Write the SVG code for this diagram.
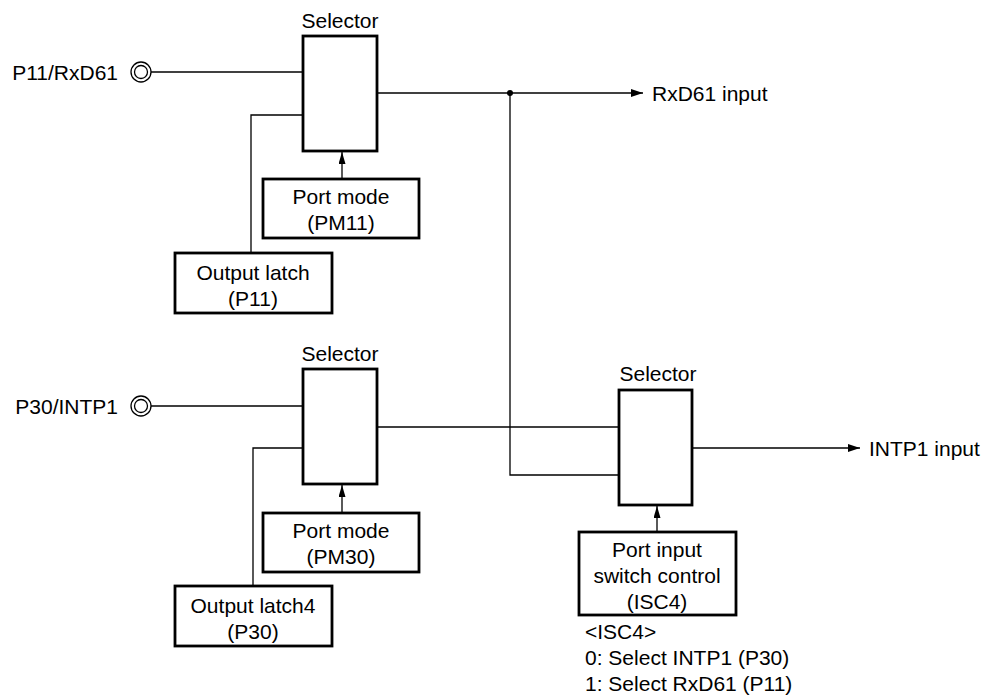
<svg xmlns="http://www.w3.org/2000/svg" width="996" height="698" viewBox="0 0 996 698">
<defs>
<style>
text{font-family:"Liberation Sans",Arial,sans-serif;font-size:21px;fill:#000}
.c{text-anchor:middle}
.e{text-anchor:end}
.box{fill:#fff;stroke:#000;stroke-width:2.8}
.ln{fill:none;stroke:#000;stroke-width:1.3}
.pin{fill:none;stroke:#000;stroke-width:1.3}
</style>
<marker id="ah" viewBox="0 0 12 8" refX="12" refY="4" markerWidth="12" markerHeight="8" markerUnits="userSpaceOnUse" orient="auto">
<path d="M0,0 L12,4 L0,8 Z" fill="#000"/>
</marker>
<marker id="av" viewBox="0 0 12 7" refX="12" refY="3.5" markerWidth="12" markerHeight="7" markerUnits="userSpaceOnUse" orient="auto">
<path d="M0,0 L12,3.5 L0,7 Z" fill="#000"/>
</marker>
</defs>
<rect width="996" height="698" fill="#fff"/>

<g id="connectors">
<line class="ln" x1="151" y1="72" x2="303" y2="72"/>
<polyline class="ln" points="303,115 251,115 251,253"/>
<line class="ln" x1="342" y1="179" x2="342" y2="152" marker-end="url(#av)"/>
<line class="ln" x1="377" y1="93" x2="643" y2="93" marker-end="url(#ah)"/>
<polyline class="ln" points="510,93 510,475 619,475"/>
<circle cx="510" cy="93" r="3" fill="#000"/>
<line class="ln" x1="151" y1="406" x2="303" y2="406"/>
<polyline class="ln" points="303,448 253,448 253,586"/>
<line class="ln" x1="342" y1="513" x2="342" y2="485" marker-end="url(#av)"/>
<line class="ln" x1="377" y1="427" x2="619" y2="427"/>
<line class="ln" x1="692" y1="448" x2="860" y2="448" marker-end="url(#ah)"/>
<line class="ln" x1="657" y1="532" x2="657" y2="506" marker-end="url(#av)"/>
</g>

<g id="pin-p11">
<text class="e" x="118" y="80">P11/RxD61</text>
<circle class="pin" cx="141" cy="72" r="10"/>
<circle class="pin" cx="141" cy="72" r="6.5"/>
</g>
<g id="selector1">
<text class="c" x="340" y="28">Selector</text>
<rect class="box" x="303" y="36" width="74" height="115"/>
</g>
<g id="portmode1">
<rect class="box" x="263" y="179" width="156" height="59"/>
<text class="c" x="341" y="204">Port mode</text>
<text class="c" x="341" y="230">(PM11)</text>
</g>
<g id="latch1">
<rect class="box" x="175" y="253" width="157" height="60"/>
<text class="c" x="253" y="280">Output latch</text>
<text class="c" x="253" y="306">(P11)</text>
</g>
<g id="out-rxd">
<text x="652" y="101">RxD61 input</text>
</g>

<g id="pin-p30">
<text class="e" x="118" y="414">P30/INTP1</text>
<circle class="pin" cx="141" cy="406" r="10"/>
<circle class="pin" cx="141" cy="406" r="6.5"/>
</g>
<g id="selector2">
<text class="c" x="340" y="361">Selector</text>
<rect class="box" x="303" y="369" width="74" height="115"/>
</g>
<g id="portmode2">
<rect class="box" x="263" y="513" width="156" height="59"/>
<text class="c" x="341" y="538">Port mode</text>
<text class="c" x="341" y="564">(PM30)</text>
</g>
<g id="latch2">
<rect class="box" x="175" y="586" width="157" height="60"/>
<text class="c" x="253" y="613">Output latch4</text>
<text class="c" x="253" y="639">(P30)</text>
</g>

<g id="selector3">
<text class="c" x="658" y="381">Selector</text>
<rect class="box" x="619" y="390" width="73" height="115"/>
</g>
<g id="out-intp">
<text x="869" y="456">INTP1 input</text>
</g>
<g id="isc4">
<rect class="box" x="579" y="532" width="157" height="83"/>
<text class="c" x="657" y="557">Port input</text>
<text class="c" x="657" y="583">switch control</text>
<text class="c" x="657" y="609">(ISC4)</text>
</g>
<g id="notes">
<text x="585" y="639">&lt;ISC4&gt;</text>
<text x="585" y="665">0: Select INTP1 (P30)</text>
<text x="585" y="691">1: Select RxD61 (P11)</text>
</g>
</svg>
